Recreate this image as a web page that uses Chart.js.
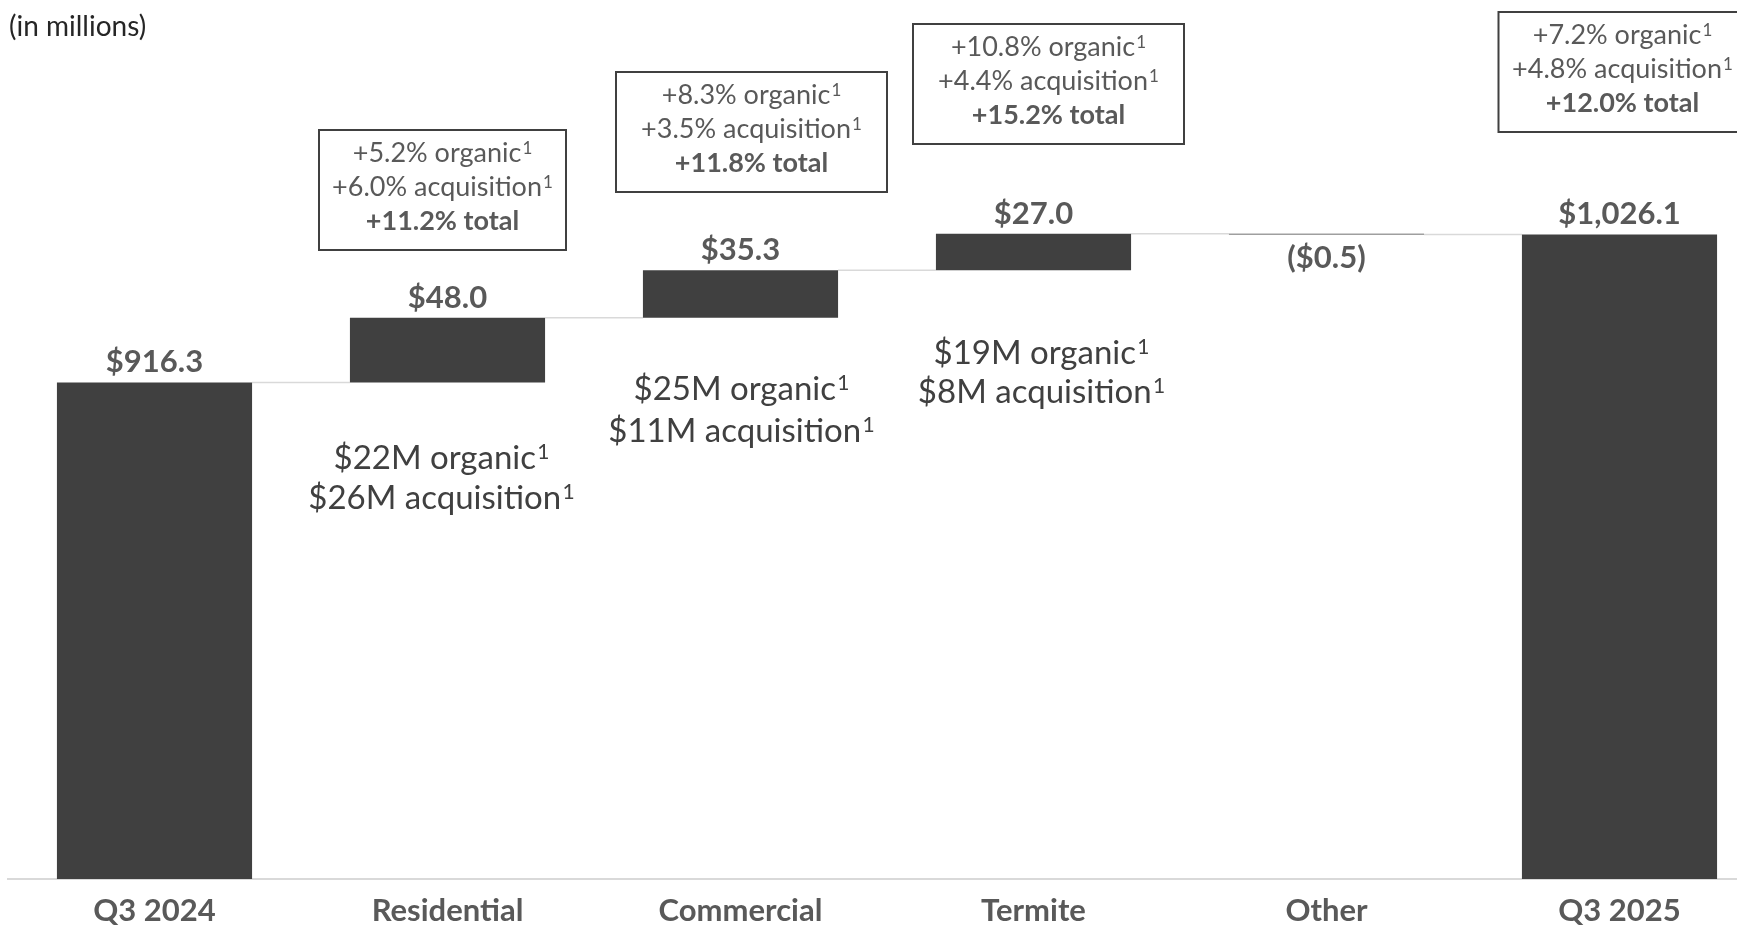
<!DOCTYPE html>
<html lang="en">
<head>
  <meta charset="UTF-8">
  <title>Revenue bridge Q3 2024 to Q3 2025</title>
  <script src="https://cdn.jsdelivr.net/npm/chart.js"></script>
  <style>
    html, body { margin: 0; padding: 0; background: #fff; overflow: hidden; }
    #wrap { position: relative; width: 1770px; height: 925px; }
  </style>
</head>
<body>
<div id="wrap">
  <canvas id="bridgeChart"></canvas>
</div>

<script>
  // data
  const categories = ['Q3 2024', 'Residential', 'Commercial', 'Termite', 'Other', 'Q3 2025'];
  const changes = [916.3, 48.0, 35.3, 27.0, -0.5, 1026.1];
  const isTotal = [true, false, false, false, false, true];
  const valueLabels = ['$916.3', '$48.0', '$35.3', '$27.0', '($0.5)', '$1,026.1'];

  // growth callouts (box text), null = no box
  const growthOrganic = [null, '+5.2% organic\u00B9', '+8.3% organic\u00B9', '+10.8% organic\u00B9', null, '+7.2% organic\u00B9'];
  const growthAcq = [null, '+6.0% acquisition\u00B9', '+3.5% acquisition\u00B9', '+4.4% acquisition\u00B9', null, '+4.8% acquisition\u00B9'];
  const growthTotal = [null, '+11.2% total', '+11.8% total', '+15.2% total', null, '+12.0% total'];

  // dollar split under the bars
  const splitOrganic = [null, '$22M organic\u00B9', '$25M organic\u00B9', '$19M organic\u00B9', null, null];
  const splitAcq = [null, '$26M acquisition\u00B9', '$11M acquisition\u00B9', '$8M acquisition\u00B9', null, null];

  // layout of the callouts (pixels), kept apart from the data
  const boxLayout = [null,
    { dx: -5, top: 130, w: 247 },
    { dx: 11, top: 72, w: 271 },
    { dx: 15, top: 24, w: 271 },
    null,
    { dx: 3, top: 12, w: 248 }];
  const splitLayout = [null,
    { dx: -6, y1: 457, y2: 497 },
    { dx: 1, y1: 388, y2: 430 },
    { dx: 8, y1: 352, y2: 391 },
    null, null];

  const FONT = 'Lato, "Open Sans", sans-serif';
  const BAR = '#404040';
  const LABEL = '#595959';

  // floating ranges for the waterfall
  let running = 0;
  const ranges = changes.map(function(v, i) {
    if (isTotal[i]) { running = v; return [0, v]; }
    const start = running;
    running = Math.round((running + v) * 10) / 10;
    return [start, running];
  });

  // centred text, with a trailing ¹ drawn as a raised smaller "1"
  function supText(ctx, text, x, y, size, weight) {
    const main = text.endsWith('\u00B9') ? text.slice(0, -1) : text;
    const hasSup = main !== text;
    const supSize = Math.round(size * 0.64);
    ctx.font = weight + ' ' + size + 'px ' + FONT;
    const w1 = ctx.measureText(main).width;
    let w2 = 0;
    if (hasSup) {
      ctx.font = weight + ' ' + supSize + 'px ' + FONT;
      w2 = ctx.measureText('1').width + size * 0.04;
    }
    const left = x - (w1 + w2) / 2;
    ctx.textAlign = 'left';
    ctx.font = weight + ' ' + size + 'px ' + FONT;
    ctx.fillText(main, left, y);
    if (hasSup) {
      ctx.font = weight + ' ' + supSize + 'px ' + FONT;
      ctx.fillText('1', left + w1 + size * 0.04, y - size * 0.3);
    }
    ctx.textAlign = 'center';
  }

  const bridgePlugin = {
    id: 'bridge',
    beforeDatasetsDraw: function(chart) {
      const ctx = chart.ctx;
      const meta = chart.getDatasetMeta(0);
      const y = chart.scales.y;
      ctx.save();
      ctx.strokeStyle = '#d9d9d9';
      ctx.lineWidth = 1.5;
      for (let i = 0; i < meta.data.length - 1; i++) {
        const a = meta.data[i], b = meta.data[i + 1];
        const level = y.getPixelForValue(ranges[i][1]);
        ctx.beginPath();
        ctx.moveTo(a.x + a.width / 2, level);
        ctx.lineTo(b.x - b.width / 2, level);
        ctx.stroke();
      }
      ctx.restore();
    },
    afterDatasetsDraw: function(chart) {
      const ctx = chart.ctx;
      const meta = chart.getDatasetMeta(0);
      const y = chart.scales.y;
      ctx.save();

      // (in millions)
      ctx.fillStyle = '#262626';
      ctx.font = '28px ' + FONT;
      ctx.textAlign = 'left';
      ctx.textBaseline = 'alphabetic';
      ctx.fillText('(in millions)', 9, 36);

      meta.data.forEach(function(bar, i) {
        const cx = bar.x;
        const r = ranges[i];
        // value labels
        ctx.fillStyle = LABEL;
        ctx.font = 'bold 31px ' + FONT;
        ctx.textAlign = 'center';
        if (r[1] >= r[0]) {
          ctx.fillText(valueLabels[i], cx, y.getPixelForValue(r[1]) - 10);
        } else {
          ctx.fillText(valueLabels[i], cx, y.getPixelForValue(r[1]) + 34);
        }

        // growth boxes
        const bl = boxLayout[i];
        if (bl) {
          const bx = cx + bl.dx - bl.w / 2;
          ctx.fillStyle = '#fff';
          ctx.fillRect(bx, bl.top, bl.w, 120);
          ctx.strokeStyle = '#404040';
          ctx.lineWidth = 2;
          ctx.strokeRect(bx, bl.top, bl.w, 120);
          ctx.fillStyle = LABEL;
          supText(ctx, growthOrganic[i], cx + bl.dx, bl.top + 22 + 10, 27, 'normal');
          supText(ctx, growthAcq[i], cx + bl.dx, bl.top + 56 + 10, 27, 'normal');
          supText(ctx, growthTotal[i], cx + bl.dx, bl.top + 90 + 10, 27, 'bold');
        }

        // dollar split under bars
        const sl = splitLayout[i];
        if (sl) {
          ctx.fillStyle = '#404040';
          supText(ctx, splitOrganic[i], cx + sl.dx, sl.y1 + 12, 33, 'normal');
          supText(ctx, splitAcq[i], cx + sl.dx, sl.y2 + 12, 33, 'normal');
        }
      });
      ctx.restore();
    }
  };

  const ctx = document.getElementById('bridgeChart').getContext('2d');
  const bridgeChart = new Chart(ctx, {
    type: 'bar',
    data: {
      labels: categories,
      datasets: [{
        data: ranges,
        backgroundColor: BAR,
        borderWidth: 0,
        categoryPercentage: 1,
        barPercentage: 0.666
      }]
    },
    options: {
      responsive: true,
      maintainAspectRatio: false,
      animation: false,
      layout: { padding: { left: 8, right: 4, top: 0, bottom: 0 } },
      plugins: {
        legend: { display: false },
        tooltip: { enabled: false }
      },
      scales: {
        x: {
          grid: { display: false, drawTicks: false },
          border: { display: true, color: '#d9d9d9', width: 2 },
          ticks: {
            color: LABEL,
            padding: 13,
            font: { family: FONT, size: 31, weight: 'bold' }
          },
          afterFit: function(scale) { scale.height = 46; }
        },
        y: {
          display: false,
          min: 548,
          max: 1200
        }
      }
    },
    plugins: [bridgePlugin]
  });
</script>
</body>
</html>
